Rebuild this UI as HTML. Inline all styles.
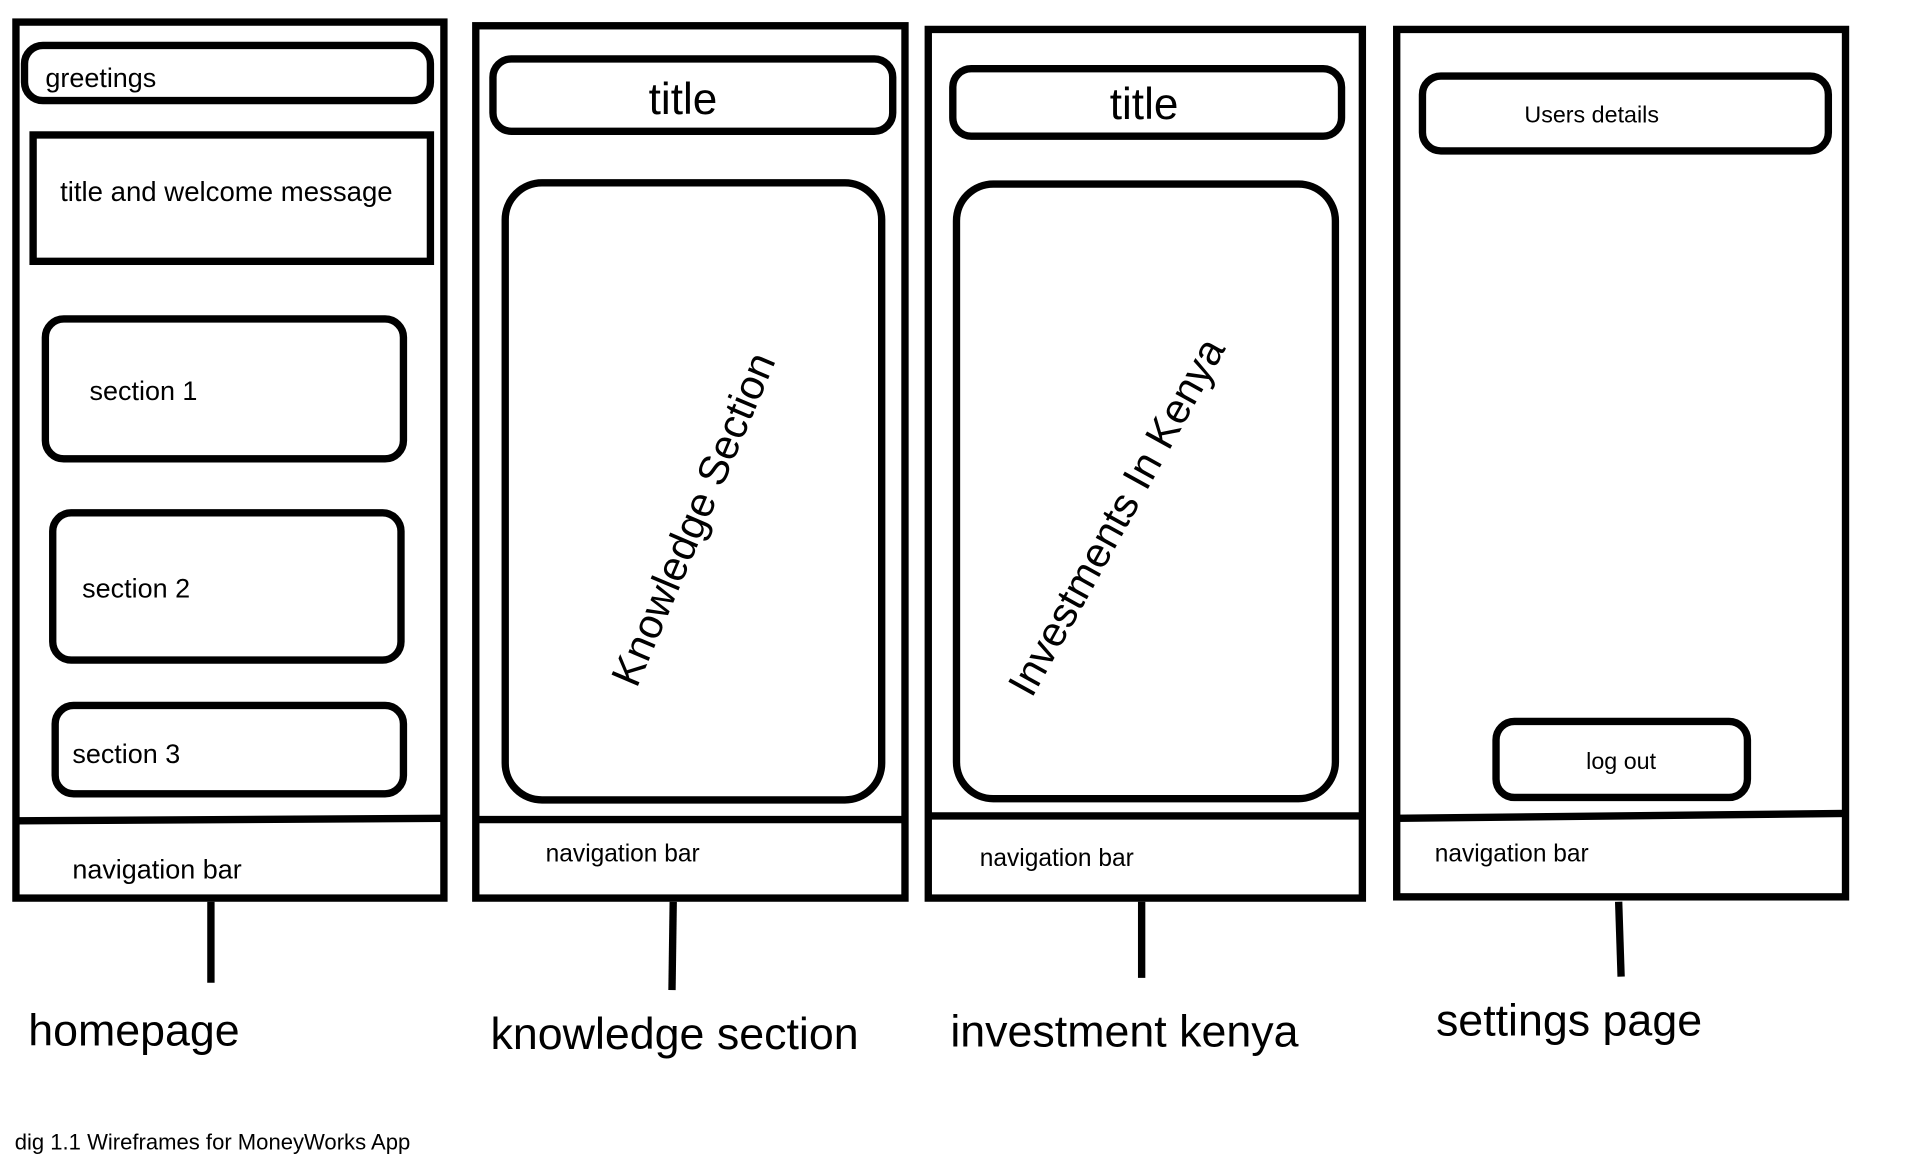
<!DOCTYPE html>
<html><head><meta charset="utf-8"><style>html,body{margin:0;padding:0;background:#fff;}svg{display:block}</style></head>
<body>
<svg width="1924" height="1168" viewBox="0 0 1569 952" preserveAspectRatio="none" xmlns="http://www.w3.org/2000/svg" font-family="Liberation Sans, DejaVu Sans, sans-serif" fill="none" stroke="#000">
<g stroke-width="6">
<rect x="13" y="18" width="349" height="714"/>
<line x1="13" y1="669" x2="362" y2="667"/>
<rect x="20" y="37" width="331" height="45" rx="15"/>
<rect x="27" y="110" width="324" height="103"/>
<rect x="37" y="260" width="292" height="114" rx="15"/>
<rect x="43" y="418" width="284" height="120" rx="15"/>
<rect x="45" y="575" width="284" height="72" rx="15"/>
<line x1="172" y1="735" x2="172" y2="801"/>
<rect x="388" y="21" width="350" height="711"/>
<line x1="388" y1="668" x2="738" y2="668"/>
<rect x="402" y="48" width="326" height="59" rx="15"/>
<rect x="412" y="149" width="307" height="503" rx="30"/>
<line x1="549" y1="735" x2="548" y2="807"/>
<rect x="757" y="24" width="354" height="708"/>
<line x1="757" y1="665" x2="1111" y2="665"/>
<rect x="777" y="56" width="317" height="55" rx="15"/>
<rect x="780" y="150" width="309" height="501" rx="30"/>
<line x1="931" y1="735" x2="931" y2="797"/>
<rect x="1139" y="24" width="366" height="707"/>
<line x1="1139" y1="667" x2="1505" y2="663"/>
<rect x="1160" y="62" width="331" height="61" rx="15"/>
<rect x="1220" y="588" width="205" height="62" rx="15"/>
<line x1="1320" y1="735" x2="1322" y2="796"/>
</g>
<g fill="#000" stroke="none">
<text x="37" y="71" font-size="22">greetings</text>
<text x="49" y="164" font-size="22.5">title and welcome message</text>
<text x="73" y="326" font-size="22">section 1</text>
<text x="67" y="487" font-size="22">section 2</text>
<text x="59" y="622" font-size="22">section 3</text>
<text x="59" y="716" font-size="22">navigation bar</text>
<text x="23" y="852" font-size="36.5">homepage</text>
<text x="557" y="93" font-size="36" text-anchor="middle">title</text>
<text transform="translate(565,423) rotate(-67)" font-size="34" text-anchor="middle" dy="12">Knowledge Section</text>
<text x="445" y="702" font-size="20">navigation bar</text>
<text x="400" y="855" font-size="36.5">knowledge section</text>
<text x="933" y="97" font-size="36" text-anchor="middle">title</text>
<text transform="translate(910,421) rotate(-61)" font-size="34" text-anchor="middle" dy="12">Investments In Kenya</text>
<text x="799" y="706" font-size="20">navigation bar</text>
<text x="775" y="853" font-size="36.5">investment kenya</text>
<text x="1298" y="100" font-size="19" text-anchor="middle">Users details</text>
<text x="1322" y="627" font-size="19" text-anchor="middle">log out</text>
<text x="1170" y="702" font-size="20">navigation bar</text>
<text x="1171" y="844" font-size="36.5">settings page</text>
<text x="12" y="937" font-size="18">dig 1.1 Wireframes for MoneyWorks App</text>
</g>
</svg>
</body></html>
